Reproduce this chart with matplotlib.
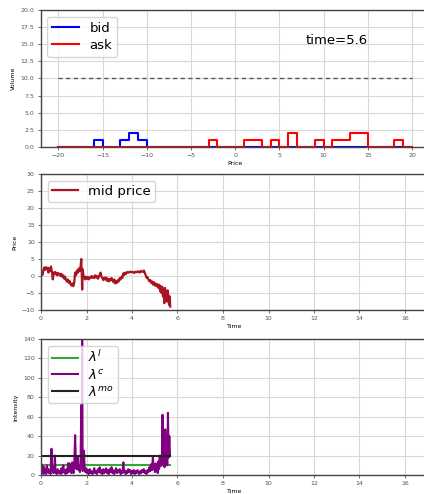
import matplotlib
matplotlib.use("Agg")
import matplotlib.pyplot as plt

# order book snapshot (price levels -20..20)
prices = list(range(-20, 21))
bid_vol = [0, 0, 0, 0, 1, 0, 0, 1, 2, 1, 0, 0, 0, 0, 0, 0, 0, 0, 0, 0,
           0, 0, 0, 0, 0, 0, 0, 0, 0, 0, 0, 0, 0, 0, 0, 0, 0, 0, 0, 0, 0]
ask_vol = [0, 0, 0, 0, 0, 0, 0, 0, 0, 0, 0, 0, 0, 0, 0, 0, 0, 1, 0, 0,
           0, 1, 1, 0, 1, 0, 2, 0, 0, 1, 0, 1, 1, 2, 2, 0, 0, 0, 1, 0, 0]
vol_cap = 10
cur_time = 5.6

# mid price path
mid_t = [0.00, 0.03, 0.06, 0.10, 0.14, 0.18, 0.22, 0.26, 0.30, 0.33, 0.36, 0.40, 0.44, 0.48,
         0.52, 0.55, 0.58, 0.62, 0.66, 0.70, 0.74, 0.78, 0.82, 0.86, 0.90, 0.94, 0.98, 1.02,
         1.06, 1.10, 1.14, 1.18, 1.22, 1.26, 1.30, 1.34, 1.38, 1.42, 1.46, 1.50, 1.54, 1.58,
         1.62, 1.66, 1.70, 1.74, 1.77, 1.79, 1.81, 1.83, 1.86, 1.90, 1.94, 1.98, 2.02, 2.06,
         2.10, 2.14, 2.18, 2.22, 2.26, 2.30, 2.34, 2.38, 2.42, 2.46, 2.50, 2.54, 2.58, 2.62,
         2.66, 2.70, 2.74, 2.78, 2.82, 2.86, 2.90, 2.94, 2.98, 3.02, 3.06, 3.10, 3.14, 3.18,
         3.22, 3.26, 3.30, 3.34, 3.38, 3.42, 3.46, 3.50, 3.54, 3.58, 3.62, 3.66, 3.70, 3.74,
         3.80, 3.86, 3.92, 3.98, 4.04, 4.10, 4.16, 4.22, 4.28, 4.34, 4.40, 4.46, 4.52, 4.56,
         4.60, 4.64, 4.68, 4.72, 4.76, 4.80, 4.84, 4.88, 4.92, 4.96, 5.00, 5.04, 5.08, 5.12,
         5.16, 5.20, 5.24, 5.27, 5.30, 5.33, 5.36, 5.39, 5.42, 5.45, 5.48, 5.51, 5.54, 5.57,
         5.60, 5.63, 5.66, 5.68]
mid_p = [0.5, 1.0, 0.3, 1.5, 2.5, 1.8, 2.6, 2.0, 2.4, 1.0, 2.2, 1.5, 2.8, 1.2,
         -1.0, 1.0, 0.5, 1.2, 0.8, 0.2, 0.9, 0.4, 0.7, 0.0, 0.6, -0.3, 0.2, -0.8,
         -0.2, -1.2, -1.6, -1.0, -2.0, -1.5, -2.4, -2.8, -2.2, -3.0, -2.0, 1.0, 0.2, 1.6,
         1.0, 2.2, 1.4, 2.8, 5.0, 1.0, -4.0, 2.0, 0.5, -0.5, -1.0, -0.2, -0.8, -0.3,
         -1.0, -0.4, -0.6, 0.0, -0.5, -0.2, -0.6, 0.2, -0.4, 0.0, -0.8, -0.3, 0.4, 1.0,
         -0.2, -0.6, -1.2, -0.5, -1.0, -0.4, -1.4, -0.8, -1.6, -0.9, -1.3, -0.6, -1.2, -1.8,
         -1.0, -2.2, -1.5, -2.0, -1.2, -1.6, -0.6, -1.0, -0.2, -0.5, 0.8, 0.3, 1.0, 0.6,
         1.2, 1.0, 1.3, 1.1, 1.2, 0.9, 1.3, 1.1, 1.4, 1.0, 1.5, 1.2, 1.6, 1.0,
         0.2, -0.5, -0.3, -1.0, -1.5, -1.2, -2.0, -1.6, -2.5, -1.8, -2.8, -2.2, -3.0, -2.4,
         -3.5, -2.6, -4.5, -3.0, -5.0, -3.2, -6.0, -4.0, -8.0, -3.5, -5.5, -4.5, -7.5, -4.2,
         -6.5, -8.5, -6.0, -9.0]

# intensities
lam_c_t = [0.00, 0.03, 0.05, 0.08, 0.11, 0.14, 0.17, 0.20, 0.23, 0.26, 0.29, 0.32, 0.35, 0.38,
           0.42, 0.46, 0.49, 0.52, 0.55, 0.58, 0.61, 0.64, 0.67, 0.70, 0.74, 0.78, 0.82, 0.86,
           0.90, 0.94, 0.98, 1.01, 1.04, 1.08, 1.12, 1.16, 1.19, 1.22, 1.25, 1.28, 1.31, 1.34,
           1.37, 1.40, 1.43, 1.46, 1.50, 1.53, 1.56, 1.59, 1.62, 1.65, 1.68, 1.71, 1.74, 1.77,
           1.79, 1.81, 1.83, 1.86, 1.89, 1.92, 1.95, 1.98, 2.02, 2.06, 2.10, 2.14, 2.18, 2.22,
           2.26, 2.30, 2.34, 2.38, 2.42, 2.46, 2.50, 2.54, 2.58, 2.62, 2.66, 2.70, 2.74, 2.78,
           2.82, 2.86, 2.90, 2.94, 2.98, 3.02, 3.06, 3.10, 3.14, 3.18, 3.22, 3.26, 3.30, 3.34,
           3.38, 3.42, 3.46, 3.50, 3.54, 3.58, 3.62, 3.65, 3.68, 3.72, 3.76, 3.80, 3.84, 3.88,
           3.92, 3.96, 4.00, 4.04, 4.08, 4.12, 4.16, 4.20, 4.24, 4.28, 4.32, 4.36, 4.40, 4.44,
           4.48, 4.52, 4.56, 4.60, 4.64, 4.68, 4.72, 4.76, 4.80, 4.84, 4.88, 4.92, 4.95, 4.98,
           5.01, 5.04, 5.07, 5.10, 5.13, 5.16, 5.19, 5.22, 5.25, 5.28, 5.31, 5.34, 5.37, 5.40,
           5.43, 5.46, 5.49, 5.52, 5.55, 5.58, 5.61, 5.64, 5.67]
lam_c = [2, 11, 3, 9, 1, 8, 3, 5, 1, 10, 3, 6, 2, 4,
         1, 27, 4, 8, 2, 5, 20, 2, 5, 1, 6, 2, 4, 1,
         7, 2, 10, 3, 5, 1, 6, 2, 12, 3, 12, 4, 8, 2,
         13, 5, 2, 9, 41, 15, 6, 10, 18, 5, 9, 3, 12, 72,
         8, 150, 4, 10, 25, 6, 3, 7, 2, 5, 1, 6, 2, 4,
         1, 3, 7, 2, 4, 1, 6, 3, 8, 2, 5, 1, 6, 2,
         4, 7, 2, 5, 1, 6, 3, 8, 2, 5, 1, 4, 7, 2,
         5, 3, 6, 1, 4, 2, 13, 3, 5, 1, 4, 2, 6, 3,
         5, 1, 4, 2, 5, 1, 4, 2, 5, 3, 1, 4, 2, 5,
         3, 6, 2, 4, 1, 5, 3, 8, 4, 11, 5, 19, 6, 9,
         3, 12, 5, 8, 2, 14, 6, 20, 9, 15, 10, 62, 12, 20,
         8, 47, 15, 30, 10, 64, 18, 40, 20]
lam_t = [0.0, 5.68]
lam_l = [10.5, 10.5]
lam_mo = [20, 20]

plt.rcParams['font.family'] = 'DejaVu Sans'
fig = plt.figure(figsize=(4.24, 4.94), dpi=100)
W, H = 424, 494


def make_ax(left, top, right, bottom):
    ax = fig.add_axes([left / W, 1 - bottom / H, (right - left) / W, (bottom - top) / H])
    ax.grid(True, color='#d8d8d8', lw=0.8)
    ax.set_axisbelow(True)
    ax.tick_params(labelsize=4.5, colors='#555555', length=2.5, width=0.6, pad=2)
    for s in ax.spines.values():
        s.set_color('#444444')
        s.set_linewidth(1.0)
    return ax


# order book
ax1 = make_ax(40.6, 10, 429.7, 147)
ax1.step(prices, bid_vol, where='post', color='blue', lw=1.5, label='bid')
ax1.step(prices, ask_vol, where='post', color='red', lw=1.5, label='ask')
ax1.plot([prices[0], prices[-1]], [vol_cap, vol_cap], color='#555555', lw=1,
         linestyle=(0, (3, 2.5)))
ax1.text(8, 15, 'time=%.1f' % cur_time, fontsize=9.5)
ax1.set_xlim(-22, 22)
ax1.set_ylim(0, 20)
ax1.set_xlabel('Price', fontsize=4.5, labelpad=2)
ax1.set_ylabel('Volume', fontsize=4.5, labelpad=3)
ax1.legend(loc='upper left', fontsize=9.5, handlelength=2, borderpad=0.4,
           labelspacing=0.3, framealpha=0.8)

# mid price
ax2 = make_ax(41, 174, 41 + 17 * 22.75, 310)
ax2.plot(mid_t, mid_p, color='#a8141f', lw=1.6, label='mid price')
ax2.set_xlim(0, 17)
ax2.set_ylim(-10, 30)
ax2.set_xticks(range(0, 17, 2))
ax2.set_xlabel('Time', fontsize=4.5, labelpad=2)
ax2.set_ylabel('Price', fontsize=4.5, labelpad=3)
ax2.legend(loc='upper left', fontsize=9.5, handlelength=2, borderpad=0.3, framealpha=0.8)

# intensities
ax3 = make_ax(41, 339, 41 + 17 * 22.75, 475)
ax3.plot(lam_t, lam_l, color='#33aa33', lw=1.5, label=r'$\lambda^{l}$')
ax3.plot(lam_c_t, lam_c, color='purple', lw=1.5, label=r'$\lambda^{c}$')
ax3.plot(lam_t, lam_mo, color='#222222', lw=1.5, label=r'$\lambda^{mo}$')
ax3.set_xlim(0, 17)
ax3.set_ylim(0, 140)
ax3.set_xticks(range(0, 17, 2))
ax3.set_xlabel('Time', fontsize=4.5, labelpad=2)
ax3.set_ylabel('Intensity', fontsize=4.5, labelpad=3)
ax3.legend(loc='upper left', fontsize=9.5, handlelength=2, borderpad=0.3,
           labelspacing=0.2, framealpha=0.8)

fig.savefig('out.png', dpi=100)
